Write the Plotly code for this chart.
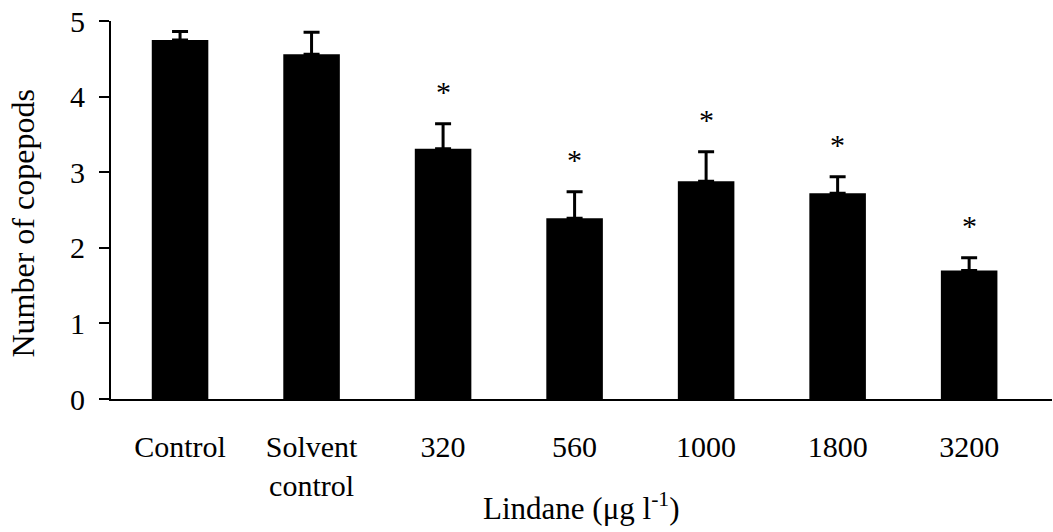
import plotly.graph_objects as go

categories = ["Control", "Solvent<br>control", "320", "560", "1000", "1800", "3200"]
means = [4.75, 4.56, 3.31, 2.39, 2.88, 2.72, 1.70]
errors = [0.11, 0.29, 0.33, 0.35, 0.39, 0.22, 0.17]
significant = [False, False, True, True, True, True, True]
y_ticks = [0, 1, 2, 3, 4, 5]

FONT = "Liberation Serif"
x_idx = list(range(len(categories)))

fig = go.Figure()
fig.add_trace(go.Bar(
    x=x_idx, y=means, width=0.43,
    marker=dict(color="black", line=dict(width=0)),
    error_y=dict(type="data", array=errors, arrayminus=[0] * len(errors),
                 symmetric=False, color="black", thickness=3, width=8),
    showlegend=False,
))

for i, (m, e, s) in enumerate(zip(means, errors, significant)):
    if s:
        fig.add_annotation(x=i, y=m + e, xref="x", yref="y", text="*",
                           showarrow=False, yanchor="middle", yshift=32,
                           font=dict(family=FONT, size=30, color="black"))

fig.add_annotation(x=0.5, y=-0.285, xref="paper", yref="paper",
                   text="Lindane (μg l<sup>-1</sup>)", showarrow=False,
                   xanchor="center", yanchor="middle",
                   font=dict(family=FONT, size=31, color="black"))
fig.add_annotation(x=-0.094, y=0.463, xref="paper", yref="paper",
                   text="Number of copepods", showarrow=False, textangle=-90,
                   xanchor="center", yanchor="middle",
                   font=dict(family=FONT, size=32, color="black"))

fig.update_xaxes(
    range=[-0.525, 6.63], tickmode="array", tickvals=x_idx, ticktext=categories,
    showline=True, linecolor="black", linewidth=2, ticks="", showgrid=False,
    zeroline=False, ticklabelstandoff=20,
    tickfont=dict(family=FONT, size=30, color="black"),
)
fig.update_yaxes(
    range=[0, 5], tickvals=y_ticks, showline=True, linecolor="black", linewidth=2,
    ticks="outside", ticklen=10, tickwidth=2, tickcolor="black", showgrid=False,
    zeroline=False, ticklabelstandoff=8,
    tickfont=dict(family=FONT, size=30, color="black"),
)
fig.update_layout(
    width=1053, height=532,
    margin=dict(l=111, r=1, t=21, b=133),
    plot_bgcolor="white", paper_bgcolor="white",
    bargap=0.5,
)
fig.write_html("out.html")
